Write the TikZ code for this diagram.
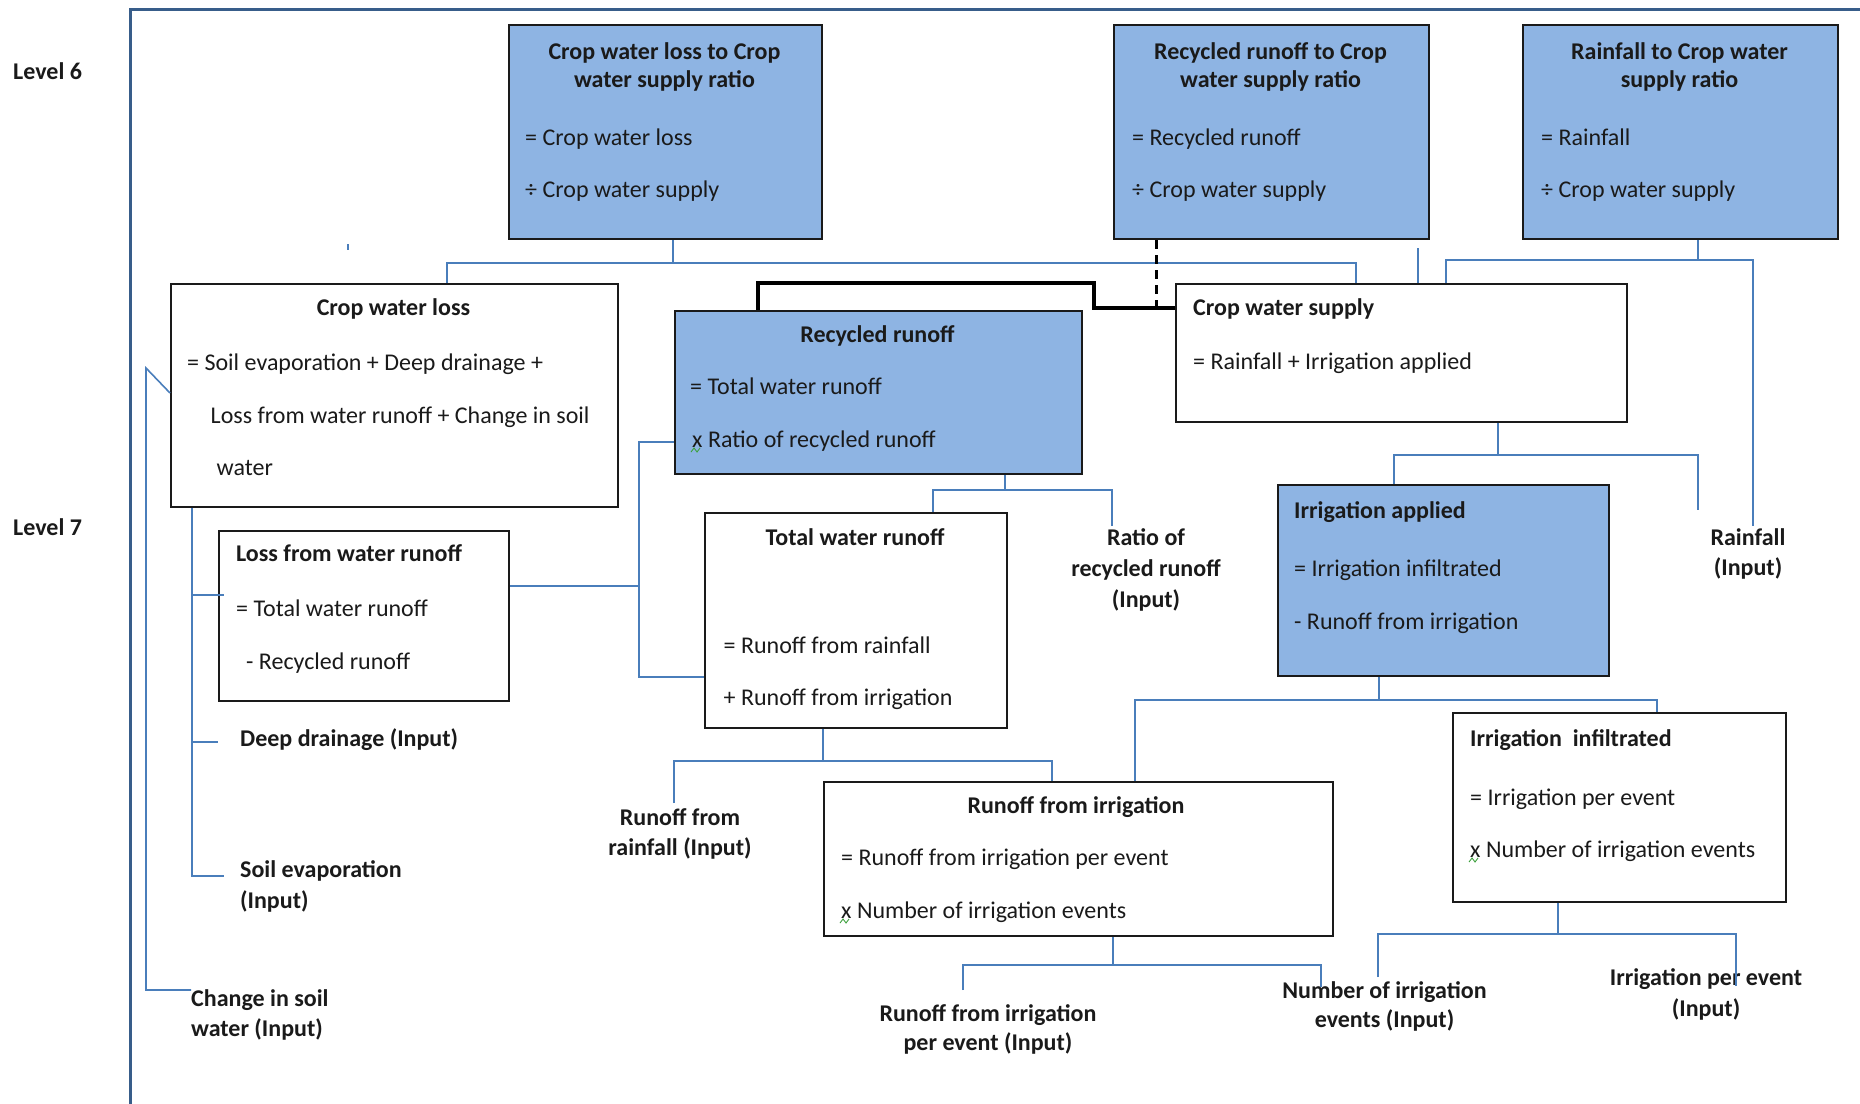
\documentclass[tikz,border=0pt]{standalone}
\usepackage{fontspec}
\setmainfont{Carlito}
\newcommand\diagfont{\fontsize{24}{29}\selectfont}
\definecolor{boxblue}{HTML}{8EB4E3}
\definecolor{linkblue}{HTML}{4A7EBB}
\definecolor{framecol}{HTML}{385D8A}
\definecolor{inkgray}{HTML}{1A1A1A}
\definecolor{squig}{HTML}{3CA03C}
\tikzset{
  box/.style={draw=inkgray, line width=2pt, inner sep=0pt, anchor=north west},
  bluebox/.style={box, fill=boxblue},
  whitebox/.style={box, fill=white},
  tx/.style={inner sep=0pt, anchor=base west, text=inkgray, font=\diagfont},
  txb/.style={tx, font=\diagfont\bfseries},
  ctb/.style={inner sep=0pt, anchor=base, text=inkgray, font=\diagfont\bfseries},
  link/.style={draw=linkblue, line width=1.6pt},
  heavy/.style={draw=black, line width=3.5pt},
  heavydash/.style={draw=black, line width=3pt, dash pattern=on 9pt off 6pt},
  frameline/.style={draw=framecol, line width=3pt},
  wavy/.style={draw=squig, line width=0.9pt},
}
\begin{document}
\begin{tikzpicture}[x=1pt, y=-1pt]
\useasboundingbox (0,0) rectangle (1860,1103);
\fill[white] (0,0) rectangle (1860,1103);

% outer frame
\draw[frameline] (130,1110) -- (130,9) -- (1865,9);

% level labels
\node[txb] (lv6) at (13,79) {Level 6};
\node[txb] (lv7) at (13,535) {Level 7};

% ---------- boxes ----------
\node[bluebox, minimum width=313pt, minimum height=214pt] (r1) at (508,24) {};
\node[bluebox, minimum width=315pt, minimum height=214pt] (r2) at (1113,24) {};
\node[bluebox, minimum width=315pt, minimum height=214pt] (r3) at (1522,24) {};
\node[whitebox, minimum width=447pt, minimum height=223pt] (cwl) at (170,283) {};
\node[bluebox, minimum width=407pt, minimum height=163pt] (rr) at (674,310) {};
\node[whitebox, minimum width=451pt, minimum height=138pt] (cws) at (1175,283) {};
\node[whitebox, minimum width=290pt, minimum height=170pt] (lwr) at (218,530) {};
\node[whitebox, minimum width=302pt, minimum height=215pt] (twr) at (704,512) {};
\node[bluebox, minimum width=331pt, minimum height=191pt] (ia) at (1277,484) {};
\node[whitebox, minimum width=509pt, minimum height=154pt] (rfi) at (823,781) {};
\node[whitebox, minimum width=333pt, minimum height=189pt] (ii) at (1452,712) {};

% ---------- box texts ----------
\node[ctb] (r1a) at (664.5,59) {Crop water loss to Crop};
\node[ctb] (r1b) at (664.5,87) {water supply ratio};
\node[tx] (r1c) at (525,145) {= Crop water loss};
\node[tx] (r1d) at (525,197) {÷ Crop water supply};

\node[ctb] (r2a) at (1270.5,59) {Recycled runoff to Crop};
\node[ctb] (r2b) at (1270.5,87) {water supply ratio};
\node[tx] (r2c) at (1132,145) {= Recycled runoff};
\node[tx] (r2d) at (1132,197) {÷ Crop water supply};

\node[ctb] (r3a) at (1679.5,59) {Rainfall to Crop water};
\node[ctb] (r3b) at (1679.5,87) {supply ratio};
\node[tx] (r3c) at (1541,145) {= Rainfall};
\node[tx] (r3d) at (1541,197) {÷ Crop water supply};

\node[ctb] (cwla) at (393.5,315) {Crop water loss};
\node[tx] (cwlb) at (187,370) {= Soil evaporation + Deep drainage +};
\node[tx] (cwlc) at (210.5,423) {Loss from water runoff + Change in soil};
\node[tx] (cwld) at (216.5,475) {water};

\node[ctb] (rra) at (877.5,342) {Recycled runoff};
\node[tx] (rrb) at (690,394) {= Total water runoff};
\node[tx] (rrc) at (692,447) {x Ratio of recycled runoff};

\node[txb] (cwsa) at (1193,315) {Crop water supply};
\node[tx] (cwsb) at (1193,369) {= Rainfall + Irrigation applied};

\node[txb] (lwra) at (236,561) {Loss from water runoff};
\node[tx] (lwrb) at (236,616) {= Total water runoff};
\node[tx] (lwrc) at (246,669) {- Recycled runoff};

\node[ctb] (twra) at (855,545) {Total water runoff};
\node[tx] (twrb) at (723.5,653) {= Runoff from rainfall};
\node[tx] (twrc) at (723.5,705) {+ Runoff from irrigation};

\node[txb] (iaa) at (1294,518) {Irrigation applied};
\node[tx] (iab) at (1294,576) {= Irrigation infiltrated};
\node[tx] (iac) at (1294,629) {- Runoff from irrigation};

\node[ctb] (rfia) at (1076,813) {Runoff from irrigation};
\node[tx] (rfib) at (841,865) {= Runoff from irrigation per event};
\node[tx] (rfic) at (841,918) {x Number of irrigation events};

\node[txb] (iia) at (1470,746) {Irrigation\ \ infiltrated};
\node[tx] (iib) at (1470,805) {= Irrigation per event};
\node[tx] (iic) at (1470,857) {x Number of irrigation events};

% grammar squiggles under the x signs
\draw[wavy] (691,452) -- (694,448) -- (697,452) -- (700,448);
\draw[wavy] (840,923) -- (843,919) -- (846,923) -- (849,919);
\draw[wavy] (1469,862) -- (1472,858) -- (1475,862) -- (1478,858);

% ---------- input labels ----------
\node[ctb] (ratioA) at (1146,545.5) {Ratio of};
\node[ctb] (ratioB) at (1146,576.5) {recycled runoff};
\node[ctb] (ratioC) at (1146,607) {(Input)};

\node[ctb] (rainA) at (1748,545.5) {Rainfall};
\node[ctb] (rainB) at (1748,575) {(Input)};

\node[txb] (deepA) at (240,746) {Deep drainage (Input)};

\node[txb] (evapA) at (240,877) {Soil evaporation};
\node[txb] (evapB) at (240,908) {(Input)};

\node[txb] (chgA) at (191,1006.5) {Change in soil};
\node[txb] (chgB) at (191,1036) {water (Input)};

\node[ctb] (rfrA) at (680,825) {Runoff from};
\node[ctb] (rfrB) at (680,855) {rainfall (Input)};

\node[ctb] (rpeA) at (988,1021) {Runoff from irrigation};
\node[ctb] (rpeB) at (988,1050) {per event (Input)};

\node[ctb] (nieA) at (1384.5,998.5) {Number of irrigation};
\node[ctb] (nieB) at (1384.5,1027.5) {events (Input)};

\node[ctb] (ipeA) at (1706,985) {Irrigation per event};
\node[ctb] (ipeB) at (1706,1016) {(Input)};

% ---------- connectors ----------
% crop water loss ratio
\coordinate (a1) at (673,263);
\coordinate (a2) at (447,263);
\coordinate (a3) at (1356,263);
\draw[link] (a1 |- r1.south) -- (a1);
\draw[link] (a2 |- cwl.north) -- (a2) -- (a3) -- (a3 |- cws.north);

% short stubs
\coordinate (b1) at (1418,248);
\draw[link] (b1) -- (b1 |- cws.north);
\coordinate (e1) at (348,244);
\coordinate (e2) at (348,250);
\draw[link] (e1) -- (e2);

% rainfall ratio
\coordinate (c1) at (1698,260);
\coordinate (c2) at (1446,260);
\coordinate (c3) at (1753,260);
\coordinate (c4) at (1753,526);
\draw[link] (c1 |- r3.south) -- (c1);
\draw[link] (c2 |- cws.north) -- (c2) -- (c3) -- (c4);

% recycled runoff links (black)
\coordinate (d1) at (758,283);
\coordinate (d2) at (1094,283);
\coordinate (d3) at (1094,308);
\coordinate (d4) at (1156,308);
\draw[heavy] (d1 |- rr.north) -- (d1) -- (d2) -- (d3) -- (d3 -| cws.west);
\draw[heavydash] (d4 |- r2.south) -- (d4);

% crop water loss inputs
\coordinate (f0) at (170,393);
\coordinate (f1) at (146,368);
\coordinate (f2) at (146,990);
\draw[link] (f0) -- (f1) -- (f2) -- (f2 -| chgA.west);
\coordinate (g1) at (192,595);
\coordinate (g2) at (192,742);
\coordinate (g3) at (192,876);
\coordinate (g1e) at (224,595);
\coordinate (g2e) at (218,742);
\coordinate (g3e) at (224,876);
\draw[link] (g3 |- cwl.south) -- (g3) -- (g3e);
\draw[link] (g1) -- (g1e);
\draw[link] (g2) -- (g2e);

% loss from water runoff / total water runoff
\coordinate (h1) at (639,586);
\coordinate (h2) at (639,442);
\coordinate (h3) at (639,677);
\draw[link] (h1 -| lwr.east) -- (h1);
\draw[link] (h2 -| rr.west) -- (h2) -- (h3) -- (h3 -| twr.west);

% recycled runoff inputs
\coordinate (i1) at (1005,490);
\coordinate (i2) at (933,490);
\coordinate (i3) at (1112,490);
\coordinate (i4) at (1112,526);
\draw[link] (i1 |- rr.south) -- (i1);
\draw[link] (i2 |- twr.north) -- (i2) -- (i3) -- (i4);

% crop water supply inputs
\coordinate (j1) at (1498,455);
\coordinate (j2) at (1394,455);
\coordinate (j3) at (1698,455);
\coordinate (j4) at (1698,510);
\draw[link] (j1 |- cws.south) -- (j1);
\draw[link] (j2 |- ia.north) -- (j2) -- (j3) -- (j4);

% irrigation applied inputs
\coordinate (k1) at (1379,700);
\coordinate (k2) at (1135,700);
\coordinate (k3) at (1657,700);
\draw[link] (k1 |- ia.south) -- (k1);
\draw[link] (k2 |- rfi.north) -- (k2) -- (k3) -- (k3 |- ii.north);

% total water runoff inputs
\coordinate (l1) at (823,761);
\coordinate (l2) at (674,761);
\coordinate (l3) at (1052,761);
\coordinate (l4) at (674,803);
\draw[link] (l1 |- twr.south) -- (l1);
\draw[link] (l4) -- (l2) -- (l3) -- (l3 |- rfi.north);

% runoff from irrigation inputs
\coordinate (m1) at (1113,965);
\coordinate (m2) at (963,965);
\coordinate (m3) at (1321,965);
\coordinate (m4) at (963,990);
\coordinate (m5) at (1321,987);
\draw[link] (m1 |- rfi.south) -- (m1);
\draw[link] (m4) -- (m2) -- (m3) -- (m5);

% irrigation infiltrated inputs
\coordinate (n1) at (1558,934);
\coordinate (n2) at (1378,934);
\coordinate (n3) at (1736,934);
\coordinate (n4) at (1378,977);
\coordinate (n5) at (1736,986);
\draw[link] (n1 |- ii.south) -- (n1);
\draw[link] (n4) -- (n2) -- (n3) -- (n5);
\end{tikzpicture}
\end{document}
